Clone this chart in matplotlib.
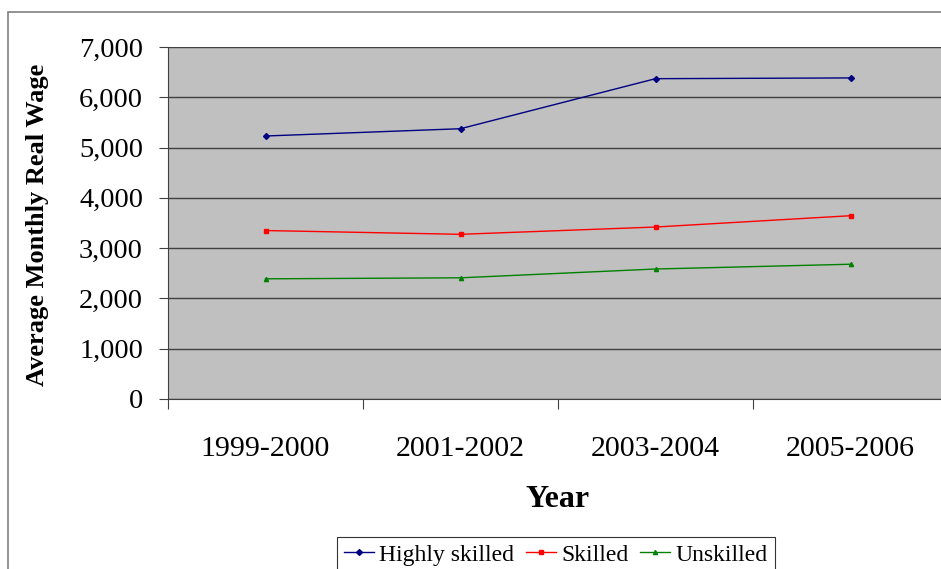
import matplotlib.pyplot as plt
from matplotlib.patches import Rectangle
from matplotlib.ticker import FuncFormatter

plt.rcParams['font.family'] = ['Liberation Serif', 'DejaVu Serif']

# Data
years = ['1999-2000', '2001-2002', '2003-2004', '2005-2006']
highly_skilled = [5230, 5375, 6370, 6385]
skilled = [3350, 3275, 3420, 3645]
unskilled = [2390, 2410, 2585, 2680]

fig = plt.figure(figsize=(9.41, 5.69), dpi=100)
fig.patch.set_facecolor('white')

# outer chart border
fig.add_artist(Rectangle((8 / 941, -0.1), 1.0, (569 - 12) / 569 + 0.1,
                         transform=fig.transFigure, fill=False,
                         edgecolor='#808080', linewidth=1.2))

ax = fig.add_axes([168 / 941, 1 - 399 / 569, (948 - 168) / 941, (399 - 47) / 569])
ax.set_facecolor('#c0c0c0')

x = range(len(years))
ax.plot(x, highly_skilled, color='#000080', marker='D', markersize=3, linewidth=1, label='Highly skilled')
ax.plot(x, skilled, color='#ff0000', marker='s', markersize=3, linewidth=1, label='Skilled')
ax.plot(x, unskilled, color='#008000', marker='^', markersize=3, linewidth=1, label='Unskilled')

ax.set_xlim(-0.5, 3.5)
ax.set_ylim(0, 7000)
ax.set_yticks(range(0, 7001, 1000))
ax.yaxis.set_major_formatter(FuncFormatter(lambda v, p: f'{int(v):,}'))
ax.grid(axis='y', color='#404040', linewidth=1)
ax.set_axisbelow(True)

ax.set_xticks([-0.5, 0.5, 1.5, 2.5, 3.5])
ax.set_xticklabels([])
ax.set_xticks(list(x), minor=True)
ax.set_xticklabels(years, minor=True, fontsize=21.5)
ax.tick_params(axis='x', which='minor', length=0, pad=27)
ax.tick_params(axis='x', which='major', length=7, direction='out', color='#404040')
ax.tick_params(axis='y', length=6.5, direction='out', color='#404040', labelsize=20.5, pad=11.5)

for s in ['top', 'right']:
    ax.spines[s].set_visible(False)
ax.spines['left'].set_color('#404040')
ax.spines['bottom'].set_color('#404040')

ax.set_xlabel('Year', fontsize=23, fontweight='bold')
ax.xaxis.set_label_coords(0.5, -0.245)
ax.set_ylabel('Average Monthly Real Wage', fontsize=19, fontweight='bold')
ax.yaxis.set_label_coords(-0.152, 0.494)

leg = fig.legend(loc='upper center', bbox_to_anchor=(556 / 941, 1 - 537 / 569), ncol=3,
                 fontsize=17, frameon=True, fancybox=False, edgecolor='black',
                 handlelength=1.27, columnspacing=0.5, handletextpad=0.22,
                 borderpad=0.3, borderaxespad=0)
leg.get_frame().set_linewidth(0.8)

fig.savefig('out.png', dpi=100)
